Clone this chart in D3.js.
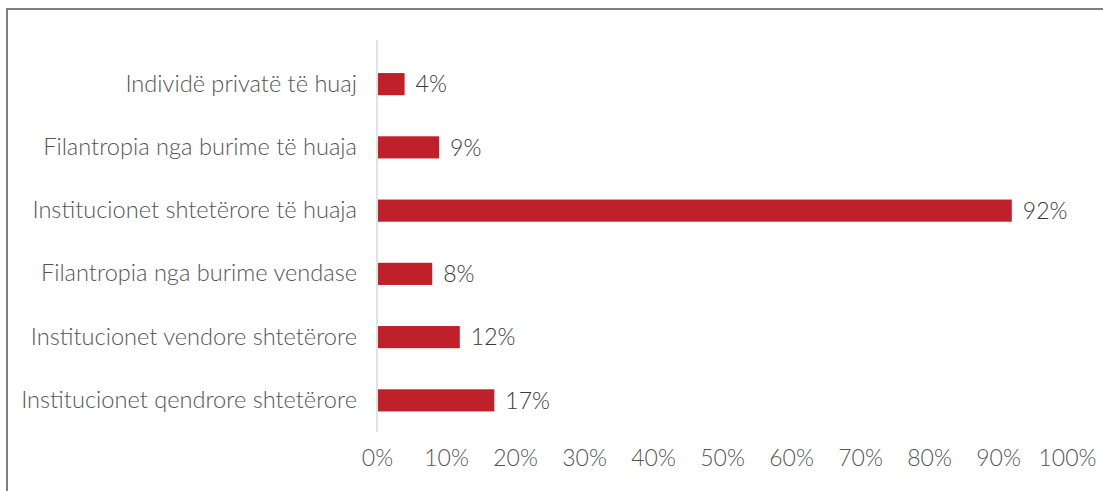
<!DOCTYPE html>
<html>
<head>
<meta charset="utf-8">
<script src="https://cdn.jsdelivr.net/npm/d3@7"></script>
<style>
  html, body { margin: 0; padding: 0; background: #fff; }
  svg { display: block; }
  text { font-family: "Lato", "Open Sans", sans-serif; font-weight: 300; }
</style>
</head>
<body>
<svg id="chart" width="1103" height="491"></svg>
<script>
// Funding sources (top to bottom) and their share in percent
const categories = [
  "Individë privatë të huaj",
  "Filantropia nga burime të huaja",
  "Institucionet shtetërore të huaja",
  "Filantropia nga burime vendase",
  "Institucionet vendore shtetërore",
  "Institucionet qendrore shtetërore"
];
const values = [4, 9, 92, 8, 12, 17];
const tickValues = [0, 10, 20, 30, 40, 50, 60, 70, 80, 90, 100];

const svg = d3.select("#chart");
const fontSize = 23;

// outer frame
svg.append("rect")
  .attr("x", 7).attr("y", 9)
  .attr("width", 1120).attr("height", 520)
  .attr("fill", "none")
  .attr("stroke", "#7f7f7f")
  .attr("stroke-width", 2);

const x = d3.scaleLinear().domain([0, 100]).range([377, 1067]);
const y = d3.scaleBand().domain(categories).range([52.5, 432]).paddingInner(0.65).paddingOuter(0.325);

// category axis line
svg.append("line")
  .attr("x1", x(0)).attr("x2", x(0))
  .attr("y1", 40).attr("y2", 432)
  .attr("stroke", "#d9d9d9").attr("stroke-width", 1.5);

// bars
svg.append("g").selectAll("rect")
  .data(values)
  .join("rect")
  .attr("x", x(0) + 1)
  .attr("y", (d, i) => y(categories[i]))
  .attr("width", d => x(d) - x(0) - 1)
  .attr("height", y.bandwidth())
  .attr("fill", "#c0202a");

// value labels
svg.append("g").selectAll("text")
  .data(values)
  .join("text")
  .attr("x", d => x(d) + 11)
  .attr("y", (d, i) => y(categories[i]) + y.bandwidth() / 2)
  .attr("dy", "0.36em")
  .attr("font-size", fontSize)
  .attr("fill", "#3a3a3a")
  .text(d => d + "%");

// category labels
const yAxis = d3.axisLeft(y).tickSize(0).tickPadding(20);
const gy = svg.append("g").attr("transform", `translate(${x(0)},0)`).call(yAxis);
gy.select(".domain").remove();
gy.selectAll("text")
  .attr("font-size", 23.6)
  .attr("font-family", "Lato, sans-serif")
  .attr("fill", "#555555");

// value axis tick labels
const xAxis = d3.axisBottom(x).tickValues(tickValues).tickFormat(d => d + "%").tickSize(0).tickPadding(0);
const gx = svg.append("g").attr("transform", "translate(0,450)").call(xAxis);
gx.select(".domain").remove();
gx.selectAll("text")
  .attr("font-size", fontSize)
  .attr("font-family", "Lato, sans-serif")
  .attr("fill", "#555555");
</script>
</body>
</html>
